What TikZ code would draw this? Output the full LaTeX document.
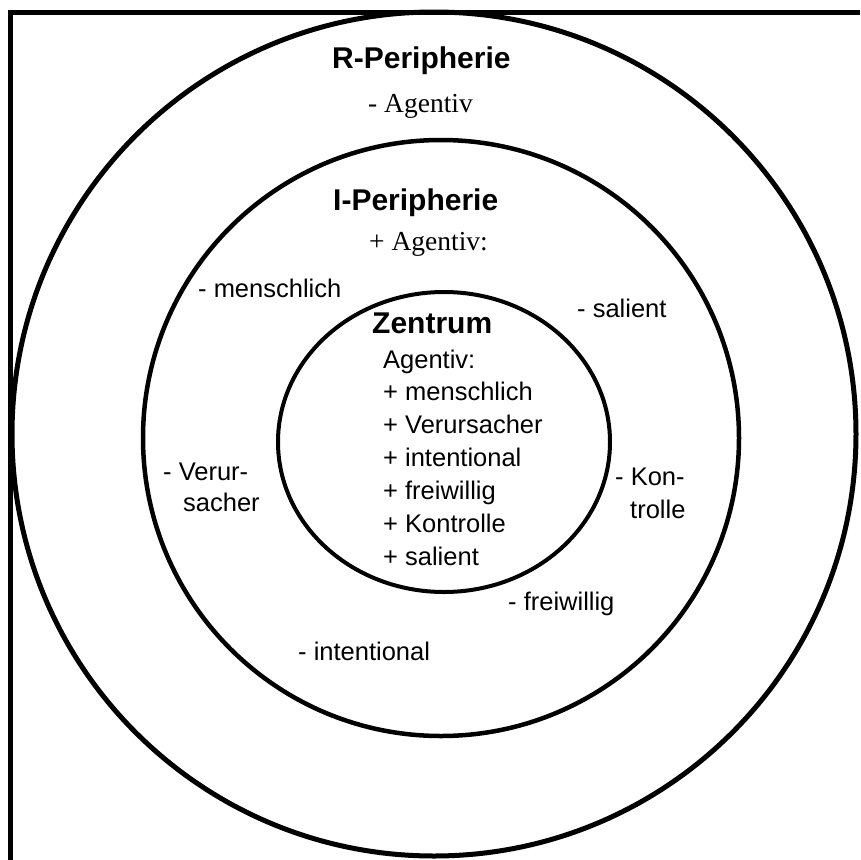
\documentclass[tikz,border=0pt]{standalone}
\usepackage{fontspec}
\setmainfont{Liberation Sans}
\newfontfamily\timesfont{Liberation Serif}
\begin{document}
\begin{tikzpicture}[x=1pt,y=-1pt,
  ring/.style={draw=black,line width=4pt},
  heading/.style={anchor=base west,inner sep=0pt,font=\fontsize{30}{35}\selectfont\bfseries},
  lbl/.style={anchor=base west,inner sep=0pt,font=\fontsize{25.5}{30}\selectfont},
  serif/.style={anchor=base west,inner sep=0pt,font=\timesfont\fontsize{27.5}{32}\selectfont}]
\useasboundingbox (0,0) rectangle (860,860);
\fill[white] (0,0) rectangle (860,860);
% frame (only top and left edges show)
\draw[line width=5pt] (10,860) -- (10,12.5) -- (860,12.5);
% the three zones
\draw[ring,line width=5pt] (434,434) circle [radius=422];
\draw[ring,line width=4.5pt] (441,438) circle [radius=298];
\draw[ring] (444,442) ellipse [x radius=166, y radius=150];

% R-Peripherie
\node[heading] (rtitle) at (332,68) {R-Peripherie};
\node[serif] (ragent) at (368,112) {- Agentiv};

% I-Peripherie
\node[heading] (ititle) at (333,210) {I-Peripherie};
\node[serif] (iagent) at (369,250) {+ Agentiv:};
\node[lbl] (imensch) at (198,297) {- menschlich};
\node[lbl] (isal) at (577,317) {- salient};
\node[lbl] (iverur) at (163,480) {- Verur-};
\node[lbl] (isacher) at (183,511) {sacher};
\node[lbl] (ikon) at (615,485) {- Kon-};
\node[lbl] (itrolle) at (630,518) {trolle};
\node[lbl] (ifrei) at (508,610) {- freiwillig};
\node[lbl] (iint) at (298,660) {- intentional};

% Zentrum
\node[heading] (ztitle) at (372,333) {Zentrum};
\node[lbl] (zagent) at (383,368) {Agentiv:};
\node[lbl] (z1) at (383,400) {+ menschlich};
\node[lbl] (z2) at (383,433) {+ Verursacher};
\node[lbl] (z3) at (383,466) {+ intentional};
\node[lbl] (z4) at (383,499) {+ freiwillig};
\node[lbl] (z5) at (383,532) {+ Kontrolle};
\node[lbl] (z6) at (383,565) {+ salient};
\end{tikzpicture}
\end{document}
